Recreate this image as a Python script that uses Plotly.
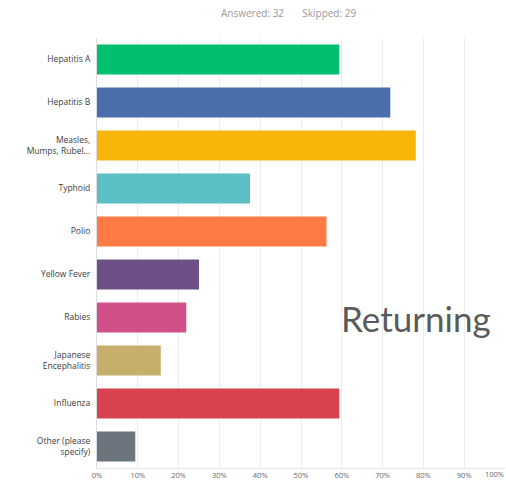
import plotly.graph_objects as go

categories = ["Hepatitis A", "Hepatitis B", "Measles,<br>Mumps, Rubel...", "Typhoid", "Polio",
              "Yellow Fever", "Rabies", "Japanese<br>Encephalitis", "Influenza", "Other (please<br>specify)"]
percents = [59.38, 71.88, 78.13, 37.5, 56.25, 25.0, 21.88, 15.63, 59.38, 9.38]
colors = ["#00BF6F", "#4A6DAB", "#F7B50A", "#5CBFC5", "#FF7A45", "#6E5088",
          "#D2508A", "#C6AF6A", "#D9434F", "#6C747D"]
tick_vals = [0, 10, 20, 30, 40, 50, 60, 70, 80, 90, 100]
tick_text = ["0%", "10%", "20%", "30%", "40%", "50%", "60%", "70%", "80%", "90%", "100%"]
header_text = "Answered: 32&nbsp;&nbsp;&nbsp;&nbsp;&nbsp;&nbsp;&nbsp;Skipped: 29"
overlay_text = "Returning"

W, H = 506, 486
L, T = 97, 38
R = W - 505
B = H - 468
pw = W - L - R
ph = H - T - B

fig = go.Figure(go.Bar(
    x=percents, y=categories, orientation="h",
    marker=dict(color=colors, line=dict(width=0)),
    width=0.7,
))

fig.update_layout(
    width=W, height=H,
    margin=dict(l=L, r=R, t=T, b=B, autoexpand=False),
    paper_bgcolor="white", plot_bgcolor="white",
    showlegend=False,
    font=dict(family="Open Sans", color="#555555"),
)
fig.add_annotation(text=header_text, x=(288 - L) / pw, y=1 + (T - 13) / ph,
                   xref="paper", yref="paper", showarrow=False,
                   xanchor="center", yanchor="middle",
                   font=dict(size=10, color="#9a9a9a", family="Open Sans"))
fig.add_annotation(text=overlay_text, x=(416 - L) / pw, y=1 - (318 - T) / ph,
                   xref="paper", yref="paper", showarrow=False,
                   xanchor="center", yanchor="middle",
                   font=dict(size=35, color="#5a5a5a", family="Lato"))
# last tick label sits at the right edge, so draw it right-aligned to its tick
fig.add_annotation(text=tick_text[-1], x=tick_vals[-1], xref="x", y=0, yref="paper",
                   xanchor="right", yanchor="top", yshift=0, showarrow=False,
                   borderpad=0,
                   font=dict(size=7.5, color="#666666", family="Open Sans"))

fig.update_xaxes(range=[0, 100], tickvals=tick_vals[:-1], ticktext=tick_text[:-1],
                 showgrid=True, gridcolor="#ececec", gridwidth=1,
                 zeroline=False, showline=True, linecolor="#e2e2e2",
                 tickfont=dict(size=7.5, color="#666666", family="Open Sans"),
                 ticks="", fixedrange=True, automargin=False)
fig.update_yaxes(autorange="reversed", showgrid=False, zeroline=False,
                 showline=True, linecolor="#dddddd",
                 tickfont=dict(size=8.5, color="#3c3c3c", family="Open Sans"),
                 ticks="", ticklabelstandoff=4, automargin=False)

fig.write_html("out.html", config={"displayModeBar": False},
               post_script="document.body.style.margin='0';document.body.style.overflow='hidden';")
